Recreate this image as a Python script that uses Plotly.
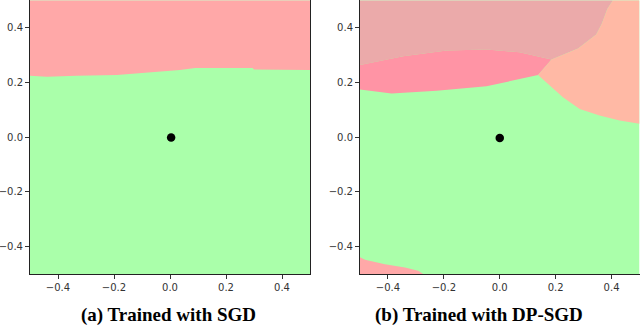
import plotly.graph_objects as go

# ---- data ----
tick_vals = [-0.4, -0.2, 0.0, 0.2, 0.4]
tick_text = ["\u22120.4", "\u22120.2", "0.0", "0.2", "0.4"]
captions = ["(a) Trained with SGD", "(b) Trained with DP-SGD"]

# (a) SGD: boundary between red (top) and green (bottom)
sgd_bx = [-0.5, -0.44, -0.335, -0.19, -0.145, -0.085, -0.015, 0.035, 0.09, 0.295, 0.30, 0.5]
sgd_by = [0.224, 0.221, 0.224, 0.227, 0.231, 0.235, 0.242, 0.245, 0.253, 0.253, 0.247, 0.245]

# (b) DP-SGD boundaries
pink_top_x = [-0.5, -0.42, -0.346, -0.19, -0.0475, 0.071, 0.185]
pink_top_y = [0.264, 0.28, 0.296, 0.317, 0.32, 0.31, 0.284]
pink_bot_x = [-0.5, -0.387, -0.226, -0.0475, 0.071, 0.137]
pink_bot_y = [0.174, 0.16, 0.17, 0.186, 0.213, 0.227]
salmon_top_x = [0.185, 0.28, 0.345, 0.365, 0.385, 0.405]
salmon_top_y = [0.284, 0.324, 0.375, 0.414, 0.469, 0.5]
salmon_bot_x = [0.137, 0.179, 0.226, 0.286, 0.357, 0.429, 0.5]
salmon_bot_y = [0.227, 0.189, 0.146, 0.103, 0.079, 0.061, 0.049]
red_x = [-0.5, -0.482, -0.411, -0.339, -0.292, -0.274]
red_y = [-0.439, -0.448, -0.464, -0.476, -0.488, -0.5]

lim = [-0.5, 0.5]
point_a = ([0.004], [-0.001])
point_b = ([0.0], [-0.003])

GREEN = "#AAFFAA"
RED = "#FFA8A8"
DUSTY = "#EBAAAA"
PINK = "#FF94A5"
SALMON = "#FFB9A5"

fig = go.Figure()


def poly(xs, ys, color, xa, ya):
    fig.add_trace(go.Scatter(x=xs, y=ys, fill="toself", fillcolor=color, mode="lines",
                             line=dict(width=0, color=color), hoverinfo="skip",
                             showlegend=False, xaxis=xa, yaxis=ya))


full_x = [lim[0], lim[1], lim[1], lim[0], lim[0]]
full_y = [lim[0], lim[0], lim[1], lim[1], lim[0]]

# panel (a)
poly(full_x, full_y, GREEN, "x", "y")
poly(sgd_bx + [lim[1], lim[0]], sgd_by + [lim[1], lim[1]], RED, "x", "y")
fig.add_trace(go.Scatter(x=point_a[0], y=point_a[1], mode="markers",
                         marker=dict(size=8.5, color="black"), showlegend=False,
                         xaxis="x", yaxis="y"))

# panel (b)
poly(full_x, full_y, GREEN, "x2", "y2")
# dusty region (top-left)
poly([lim[0]] + pink_top_x + salmon_top_x + [lim[0]],
     [lim[1]] + pink_top_y + salmon_top_y + [lim[1]], DUSTY, "x2", "y2")
# pink band
poly(pink_top_x + pink_bot_x[::-1], pink_top_y + pink_bot_y[::-1], PINK, "x2", "y2")
# salmon region (right)
poly(salmon_top_x + [lim[1]] + salmon_bot_x[::-1],
     salmon_top_y + [lim[1]] + salmon_bot_y[::-1], SALMON, "x2", "y2")
# red corner
poly(red_x + [lim[0]], red_y + [lim[0]], RED, "x2", "y2")
fig.add_trace(go.Scatter(x=point_b[0], y=point_b[1], mode="markers",
                         marker=dict(size=8.5, color="black"), showlegend=False,
                         xaxis="x2", yaxis="y2"))

W, H = 640, 328
ax_common = dict(range=lim, showgrid=False, zeroline=False, showline=True, mirror=True,
                 linecolor="#222", linewidth=1, ticks="outside", ticklen=4, tickwidth=1,
                 tickcolor="#333", tickvals=tick_vals, ticktext=tick_text,
                 tickfont=dict(family="DejaVu Sans", size=10, color="#333"),
                 automargin=False)

ydom = [(H - 274) / H, 0.999]
cap_font = dict(family="Liberation Serif", size=19, color="black", weight="bold")
fig.update_layout(
    width=W, height=H, template="none",
    margin=dict(l=0, r=0, t=0, b=0),
    paper_bgcolor="white", plot_bgcolor="white",
    xaxis=dict(domain=[30 / W, 310 / W], anchor="y", **ax_common),
    yaxis=dict(domain=ydom, anchor="x", **ax_common),
    xaxis2=dict(domain=[360 / W, 639.5 / W], anchor="y2", **ax_common),
    yaxis2=dict(domain=ydom, anchor="x2", **ax_common),
    annotations=[
        dict(text=captions[0], x=168 / W, y=(H - 315) / H, xref="paper", yref="paper",
             showarrow=False, xanchor="center", yanchor="middle", font=cap_font),
        dict(text=captions[1], x=478.5 / W, y=(H - 315) / H, xref="paper", yref="paper",
             showarrow=False, xanchor="center", yanchor="middle", font=cap_font),
    ],
)

fig.write_html("out.html", config={"displayModeBar": False},
               post_script="document.body.style.margin='0';document.body.style.overflow='hidden';")
